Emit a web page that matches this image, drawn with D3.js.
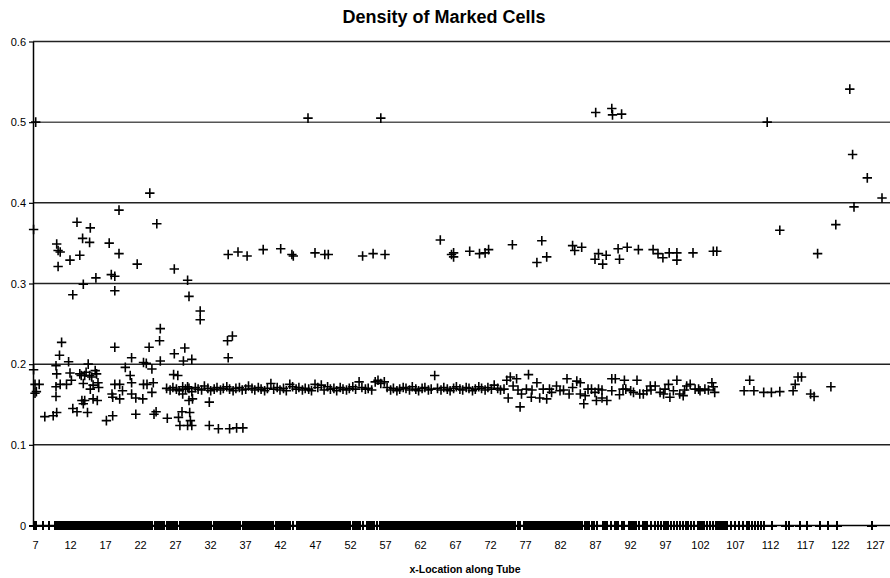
<!DOCTYPE html>
<html><head><meta charset="utf-8">
<script src="https://cdn.jsdelivr.net/npm/d3@7"></script>
<style>body{margin:0;background:#fff}svg{display:block}</style>
</head><body><svg id="c" width="890" height="578"></svg>
<script>
const chartTitle = "Density of Marked Cells";
const xAxisTitle = "x-Location along Tube";
const xTickValues = [7,12,17,22,27,32,37,42,47,52,57,62,67,72,77,82,87,92,97,102,107,112,117,122,127];
const yTickValues = [0,0.1,0.2,0.3,0.4,0.5,0.6];

// x-locations of cells whose density is 0
const zeroCellX = [6.8,7.2,8.2,9.0,9.85,10.05,10.3,10.5,10.7,11.0,11.2,11.45,11.7,11.95,12.3,12.5,12.7,
13.0,13.25,13.5,13.75,14.0,14.2,14.4,14.65,14.9,15.1,15.35,15.6,15.85,16.1,16.35,16.6,16.85,17.05,17.3,
17.55,17.9,18.15,18.4,18.65,18.9,19.1,19.45,19.7,19.95,20.2,20.45,20.7,20.95,21.2,21.45,
21.7,21.95,22.2,22.45,22.7,22.95,23.2,23.45,23.7,24.15,24.4,24.65,24.9,25.15,25.4,
25.85,26.1,26.35,26.6,26.85,27.1,27.35,27.7,27.95,28.2,28.45,28.7,28.95,29.2,29.45,29.7,29.95,30.2,30.45,
30.7,30.95,31.2,31.45,31.7,31.95,32.2,32.5,32.75,33.0,33.25,33.5,33.75,34.0,34.25,34.5,34.75,35.0,35.25,
35.5,35.75,36.0,36.25,36.7,36.95,37.2,37.45,37.7,37.95,38.2,38.45,38.7,38.95,39.2,39.45,39.7,39.95,40.2,
40.45,40.7,40.95,41.45,41.7,41.95,42.2,42.45,42.7,42.95,43.2,43.4,43.9,44.45,44.7,44.95,45.2,45.45,45.7,
45.95,46.2,46.45,46.7,46.95,47.2,47.45,47.7,47.95,48.2,48.45,48.7,48.95,49.2,49.45,49.7,49.95,50.2,50.45,
50.7,50.95,51.2,51.45,51.7,51.95,52.45,52.7,52.95,53.2,53.45,53.8,54.45,54.7,54.95,55.2,55.45,55.8,
56.3,56.55,56.8,57.05,57.3,57.55,57.8,58.05,58.3,58.55,58.8,59.05,59.3,59.55,59.8,60.15,60.4,60.65,60.9,
61.15,61.4,61.65,61.9,62.15,62.4,62.65,62.9,63.15,63.4,63.65,63.9,64.15,64.4,64.65,64.9,65.15,65.4,65.65,
65.9,66.15,66.4,66.65,66.9,67.15,67.4,67.65,67.95,68.3,68.55,68.8,69.05,69.3,69.55,69.8,70.05,70.3,70.55,
70.8,71.05,71.3,71.55,71.8,72.05,72.3,72.55,72.85,73.1,73.35,73.6,73.85,74.1,74.35,74.6,74.85,75.1,75.35,
75.55,75.95,76.25,76.85,77.1,77.35,77.6,77.85,78.1,78.35,78.6,78.85,79.1,79.35,79.6,79.85,80.15,80.4,80.65,
80.9,81.15,81.4,81.65,81.9,82.15,82.4,82.65,82.9,83.15,83.4,83.65,83.9,84.15,84.45,84.7,84.95,85.2,85.5,
85.8,86.1,86.6,86.85,87.25,88.1,88.3,88.55,88.75,89.35,89.85,90.05,90.3,90.85,91.1,91.85,92.05,92.3,92.5,
92.85,93.3,93.85,94.1,94.4,94.95,95.5,96.0,96.4,96.85,97.15,97.45,97.85,98.3,98.7,99.15,99.55,100.05,100.25,
100.7,101.15,101.7,101.95,102.3,102.55,103.0,103.4,103.85,104.3,104.5,104.75,105.0,105.25,105.5,105.8,
106.45,107.0,107.55,108.15,108.7,109.0,109.45,109.85,110.3,110.7,111.15,112.3,114.3,114.7,116.3,117.3,
119.15,120.3,121.55,126.55];

// [x, density] of cells in the main band near 0.17
const bandCells = [[25.8,0.170],[26.3,0.168],[26.7,0.171],[27.2,0.169],[27.6,0.167],[28.1,0.172],[28.5,0.169],
[29.0,0.170],[29.4,0.166],[29.9,0.171],[30.3,0.169],[30.8,0.168],[31.2,0.173],[31.7,0.170],[32.1,0.167],
[32.6,0.169],[33.0,0.171],[33.5,0.168],[33.9,0.170],[34.4,0.172],[34.8,0.169],[35.3,0.167],[35.7,0.170],
[36.2,0.171],[36.6,0.168],[37.1,0.169],[37.5,0.173],[38.0,0.170],[38.4,0.168],[38.9,0.171],[39.3,0.169],
[39.8,0.167],[40.2,0.170],[40.7,0.176],[41.1,0.169],[41.6,0.171],[42.0,0.168],[42.5,0.170],[42.9,0.167],
[43.4,0.175],[43.8,0.172],[44.3,0.169],[44.7,0.171],[45.2,0.168],[45.6,0.170],[46.1,0.169],[46.5,0.167],
[47.0,0.175],[47.4,0.171],[47.9,0.174],[48.3,0.168],[48.8,0.172],[49.2,0.169],[49.7,0.170],[50.1,0.167],
[50.6,0.171],[51.0,0.169],[51.5,0.168],[51.9,0.170],[52.4,0.172],[52.8,0.169],[53.3,0.178],[53.7,0.171],
[54.2,0.169],[54.6,0.170],[55.1,0.168],[55.6,0.178],[56.0,0.180],[56.4,0.176],[56.9,0.178],[57.3,0.171],
[57.8,0.168],[58.2,0.170],[58.7,0.167],[59.1,0.169],[59.6,0.171],[60.0,0.170],[60.5,0.168],[60.9,0.172],
[61.4,0.169],[61.8,0.167],[62.3,0.170],[62.7,0.171],[63.2,0.168],[63.6,0.169],[64.1,0.186],[64.5,0.170],
[65.0,0.168],[65.4,0.171],[65.9,0.169],[66.3,0.167],[66.8,0.170],[67.2,0.172],[67.7,0.169],[68.1,0.168],
[68.6,0.171],[69.0,0.170],[69.5,0.167],[69.9,0.169],[70.4,0.172],[70.8,0.170],[71.3,0.168],[71.7,0.171],
[72.2,0.169],[72.6,0.174],[73.1,0.170],[73.5,0.168],[74.0,0.169],[76.0,0.168],[78.0,0.168],[80.5,0.169],
[82.5,0.168],[86.5,0.169],[88.0,0.168],[91.0,0.169],[95.0,0.168],[97.0,0.169],[99.8,0.168],[101.8,0.169],[103.2,0.168]];

// [x, density] scattered low cells (0.12 - 0.20) near the tube start
const lowCells = [[6.8,0.193],[7.0,0.175],[7.6,0.175],[7.0,0.164],[7.2,0.166],[8.4,0.135],[9.6,0.136],[10.1,0.140],
[10.0,0.198],[10.1,0.188],[10.0,0.172],[10.6,0.175],[10.0,0.160],[11.5,0.175],[12.0,0.189],[12.2,0.180],
[12.4,0.145],[13.0,0.141],[13.4,0.188],[13.7,0.155],[14.1,0.155],[13.9,0.151],[14.5,0.140],[14.6,0.200],
[14.1,0.186],[15.1,0.184],[15.6,0.192],[15.8,0.188],[16.0,0.177],[14.9,0.169],[15.3,0.157],[15.9,0.155],
[13.6,0.186],[14.3,0.190],[14.8,0.186],[15.3,0.174],[16.1,0.171],[13.9,0.176],
[17.2,0.130],[18.1,0.136],[18.4,0.175],[18.1,0.159],[18.0,0.163],[19.1,0.157],[19.1,0.175],[19.9,0.196],
[19.5,0.167],[20.6,0.186],[20.8,0.177],[20.8,0.163],[21.4,0.158],[22.4,0.157],[21.4,0.138],[22.5,0.175],
[23.0,0.175],[23.7,0.194],[23.7,0.165],[23.9,0.177],[24.0,0.138],[24.3,0.141],[25.9,0.133],[26.8,0.187],
[27.4,0.186],[27.5,0.134],[27.7,0.124],[28.0,0.141],[28.1,0.163],[28.8,0.172],[29.0,0.155],[29.1,0.140],
[29.2,0.130],[29.4,0.124],[28.8,0.124],[29.5,0.157],[31.9,0.124],[31.9,0.153],[33.2,0.120],[34.8,0.120],
[35.8,0.121],[36.7,0.121]];

// [x, density] cells between 0.2 and 0.25
const midCells = [[10.8,0.227],[10.5,0.211],[11.8,0.203],[18.4,0.221],[20.8,0.208],[22.5,0.202],[22.9,0.201],
[23.3,0.221],[24.9,0.244],[24.8,0.229],[24.9,0.204],[26.9,0.213],[28.4,0.220],[28.2,0.204],[29.4,0.206],
[34.5,0.229],[35.2,0.235],[34.6,0.208]];

// [x, density] cells above 0.25
const highCells = [[6.8,0.367],[7.1,0.500],[10.1,0.349],[10.3,0.341],[10.6,0.339],[10.3,0.321],[12.0,0.329],
[12.4,0.286],[13.0,0.376],[13.4,0.335],[13.8,0.356],[13.9,0.299],[14.8,0.351],[14.9,0.369],[15.7,0.307],
[17.6,0.350],[17.9,0.311],[18.4,0.309],[18.4,0.291],[19.0,0.337],[19.0,0.391],[21.6,0.324],[23.4,0.412],
[24.4,0.374],[26.9,0.318],[28.8,0.304],[29.0,0.284],[30.6,0.266],[30.6,0.255],[34.6,0.336],[36.0,0.339],
[37.3,0.334],[39.6,0.342],[42.1,0.343],[43.7,0.336],[43.9,0.334],[46.0,0.505],[47.0,0.338],[48.4,0.336],
[48.9,0.336],[53.8,0.334],[55.3,0.337],[56.4,0.505],[57.0,0.336],[64.9,0.354],[66.5,0.336],[66.8,0.338],
[66.8,0.333],[69.1,0.340],[70.5,0.337],[71.3,0.338],[71.8,0.342],[75.2,0.348],[78.7,0.326],[79.4,0.353],
[80.1,0.333],[83.8,0.347],[84.1,0.341],[85.1,0.345],[87.0,0.330],[87.1,0.512],[87.5,0.337],[88.1,0.324],
[88.6,0.335],[89.4,0.517],[89.5,0.509],[90.3,0.343],[90.5,0.330],[90.8,0.510],[91.6,0.345],[93.2,0.342],
[95.3,0.342],[96.0,0.337],[96.7,0.332],[97.6,0.338],[98.7,0.338],[98.7,0.329],[101.0,0.338],[103.9,0.340],
[104.4,0.340],[111.6,0.500],[113.4,0.366],[118.8,0.337],[121.4,0.373],[123.4,0.541],[123.8,0.460],
[124.0,0.395],[125.9,0.431],[128.0,0.406]];

// [x, density] scattered cells near 0.17 beyond x = 74
const rightCells = [[74.4,0.180],[74.9,0.184],[75.3,0.173],[75.8,0.182],[74.6,0.158],[76.3,0.147],[76.5,0.163],
[77.5,0.187],[77.2,0.169],[77.9,0.159],[78.7,0.177],[79.1,0.158],[79.6,0.169],[80.1,0.157],[80.8,0.165],
[81.5,0.173],[82.0,0.167],[83.0,0.182],[83.3,0.163],[83.8,0.171],[84.4,0.179],[84.9,0.163],[85.4,0.151],
[84.9,0.177],[85.6,0.161],[86.0,0.169],[87.0,0.165],[87.5,0.169],[87.2,0.155],[88.0,0.158],[88.7,0.155],
[89.4,0.182],[89.9,0.182],[89.4,0.167],[90.5,0.162],[91.2,0.180],[91.4,0.169],[92.1,0.167],[92.5,0.165],
[93.0,0.180],[93.4,0.163],[93.9,0.163],[94.4,0.167],[94.9,0.173],[95.6,0.173],[96.3,0.165],[96.8,0.163],
[97.5,0.175],[97.7,0.159],[98.2,0.167],[98.7,0.180],[99.1,0.163],[99.6,0.161],[100.1,0.173],[100.6,0.175],
[101.3,0.169],[102.0,0.167],[102.7,0.169],[103.7,0.177],[103.9,0.172],[104.1,0.165],[108.3,0.167],[109.1,0.180],
[109.7,0.167],[111.1,0.165],[112.2,0.165],[113.4,0.166],[115.3,0.167],[115.6,0.175],[116.0,0.184],[116.5,0.184],
[117.8,0.163],[118.3,0.160],[120.7,0.172]];

const svg = d3.select("#c");
const xLeft = 33, xRight = 890;
const x = d3.scaleLinear().domain([7,127]).range([35,875]);
const y = d3.scaleLinear().domain([0,0.6]).range([525.5,41.5]);
const font = "'Liberation Sans', Arial, sans-serif";

// gridlines
svg.append("g").selectAll("line").data(yTickValues.filter(d => d > 0)).join("line")
  .attr("x1", xLeft).attr("x2", xRight)
  .attr("y1", d => y(d)).attr("y2", d => y(d))
  .attr("stroke", d => d === 0.5 ? "#555" : "#222").attr("stroke-width", 1.5);

// markers
const plus = "M-4.7,0H4.7M0,-4.8V4.8";
// zero-density cells (dense, drawn crisp so overlapping runs read as solid bars)
svg.append("g").attr("shape-rendering", "crispEdges")
  .selectAll("path").data(zeroCellX).join("path")
  .attr("d", plus)
  .attr("transform", d => `translate(${x(d)},${y(0)})`)
  .attr("stroke", "#000").attr("stroke-width", 2).attr("fill", "none");

const cells = [].concat(bandCells, lowCells, midCells, highCells, rightCells);
svg.append("g").selectAll("path").data(cells).join("path")
  .attr("d", plus)
  .attr("transform", d => `translate(${x(d[0])},${y(d[1])})`)
  .attr("stroke", "#000").attr("stroke-width", 1.6).attr("fill", "none");

// y axis
const yAxis = d3.axisLeft(y).tickValues(yTickValues).tickSize(4).tickSizeOuter(0).tickPadding(3)
  .tickFormat(d => d === 0 ? "0" : d3.format(".1f")(d));
const gy = svg.append("g").attr("transform", `translate(${xLeft},0)`).call(yAxis);
gy.select(".domain").attr("stroke", "#000").attr("stroke-width", 1.5);
gy.selectAll(".tick line").attr("stroke", "#000").attr("stroke-width", 1.2);
gy.selectAll("text").attr("font-family", font).attr("font-size", 11).attr("fill", "#000");

// x axis
const xAxis = d3.axisBottom(x).tickValues(xTickValues).tickSize(0).tickPadding(16);
const gx = svg.append("g").attr("transform", `translate(0,${y(0)})`).call(xAxis);
gx.select(".domain").remove();
gx.selectAll("text").attr("font-family", font).attr("font-size", 11).attr("fill", "#000");
svg.append("line").attr("x1", xLeft).attr("x2", xRight).attr("y1", y(0)).attr("y2", y(0))
  .attr("stroke", "#000").attr("stroke-width", 1.5);

// titles
svg.append("text").attr("x", 444).attr("y", 23).attr("text-anchor", "middle")
  .attr("font-family", font).attr("font-weight", "bold").attr("font-size", 18).text(chartTitle);
svg.append("text").attr("x", 465).attr("y", 573).attr("text-anchor", "middle")
  .attr("font-family", font).attr("font-weight", "bold").attr("font-size", 10.5).text(xAxisTitle);
</script></body></html>
